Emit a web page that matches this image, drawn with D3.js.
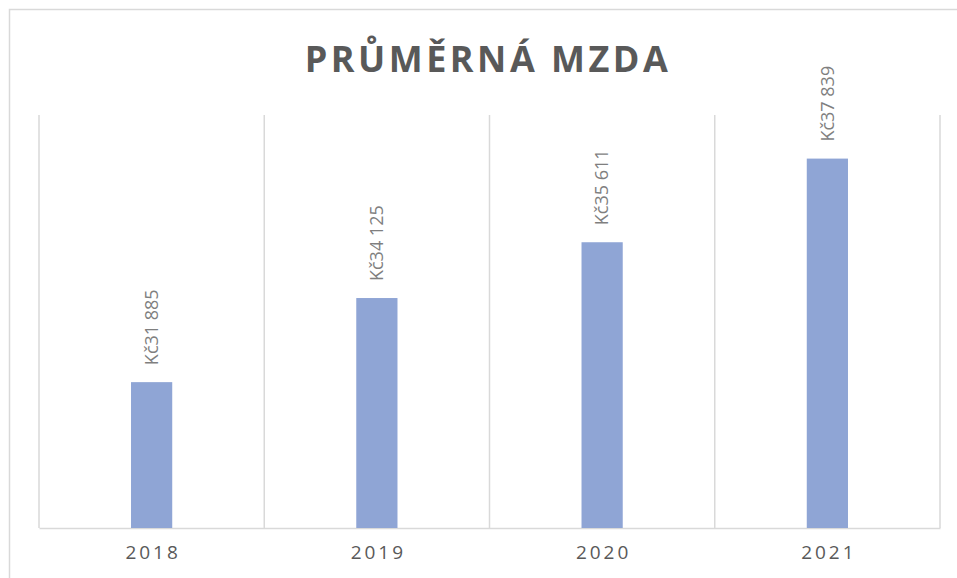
<!DOCTYPE html>
<html>
<head>
<meta charset="utf-8">
<script src="https://cdn.jsdelivr.net/npm/d3@7"></script>
<style>
  body { margin: 0; background: #fff; }
  svg text { font-family: "Open Sans", "DejaVu Sans", sans-serif; }
</style>
</head>
<body>
<div id="chart"></div>
<script>
// data
const years = ["2018", "2019", "2020", "2021"];
const wages = [31885, 34125, 35611, 37839];
const yDomain = [28000, 39000];

const width = 957, height = 578;
const m = { top: 115, right: 17, bottom: 50, left: 39 };

const svg = d3.select("#chart").append("svg")
  .attr("width", width)
  .attr("height", height);

// chart frame (extends past right/bottom edge like the screenshot)
svg.append("rect")
  .attr("x", 9.5).attr("y", 9.5)
  .attr("width", width + 20).attr("height", height + 20)
  .attr("fill", "#fff")
  .attr("stroke", "#d9d9d9")
  .attr("stroke-width", 1.5);

const x = d3.scaleBand()
  .domain(years)
  .range([m.left, width - m.right]);

const y = d3.scaleLinear()
  .domain(yDomain)
  .range([height - m.bottom, m.top]);

// title
svg.append("text")
  .attr("x", 488)
  .attr("y", 72)
  .attr("text-anchor", "middle")
  .attr("font-size", 36)
  .attr("font-weight", 700)
  .attr("letter-spacing", "3.5px")
  .attr("fill", "#595959")
  .text("PRŮMĚRNÁ MZDA");

// vertical category gridlines
const bounds = years.map(d => x(d)).concat([x.range()[1]]);
svg.append("g")
  .selectAll("line")
  .data(bounds)
  .enter()
  .append("line")
  .attr("x1", d => d).attr("x2", d => d)
  .attr("y1", y.range()[1]).attr("y2", y.range()[0])
  .attr("stroke", "#d9d9d9")
  .attr("stroke-width", 1.5);

// x axis
const xAxis = svg.append("g")
  .attr("transform", `translate(0,${y.range()[0]})`)
  .call(d3.axisBottom(x).tickSize(0).tickPadding(18).tickSizeOuter(0));

xAxis.select(".domain").attr("stroke", "#d9d9d9").attr("stroke-width", 1.5);
xAxis.selectAll("text")
  .attr("font-family", "\"Open Sans\", sans-serif")
  .attr("font-size", 19)
  .attr("letter-spacing", "3px")
  .attr("dx", "1.5px")
  .attr("fill", "#595959");

// bars
const data = years.map((yr, i) => ({ year: yr, value: wages[i] }));
const barW = x.bandwidth() * 0.183;

svg.append("g")
  .selectAll("rect")
  .data(data)
  .enter()
  .append("rect")
  .attr("x", d => x(d.year) + (x.bandwidth() - barW) / 2)
  .attr("y", d => y(d.value))
  .attr("width", barW)
  .attr("height", d => y(yDomain[0]) - y(d.value))
  .attr("fill", "#8fa5d5");

// rotated value labels
const fmt = v => "Kč" + d3.format(",")(v).replace(",", " ");

svg.append("g")
  .selectAll("text")
  .data(data)
  .enter()
  .append("text")
  .attr("transform", d => `translate(${x(d.year) + x.bandwidth() / 2},${y(d.value) - 17}) rotate(-90)`)
  .attr("dy", "0.35em")
  .attr("font-size", 18)
  .attr("fill", "#7f7f7f")
  .text(d => fmt(d.value));
</script>
</body>
</html>
